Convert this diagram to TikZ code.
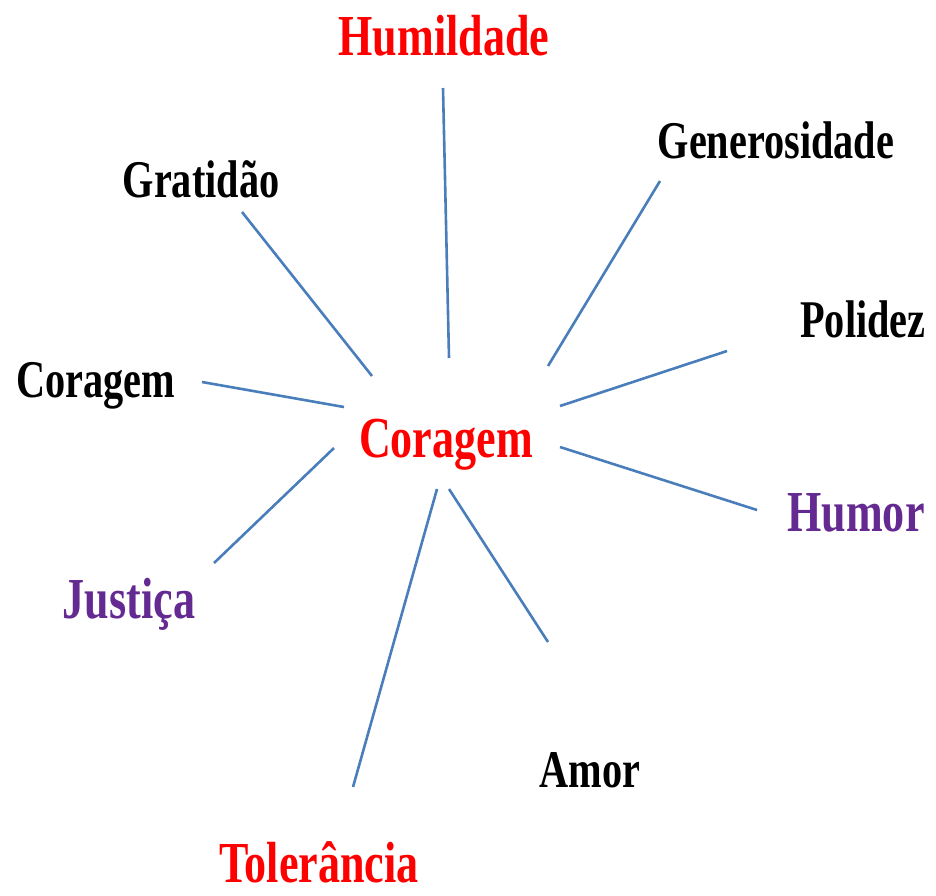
\documentclass[tikz,border=0pt]{standalone}
\usepackage{fontspec}
\usepackage{graphicx}
\setmainfont{Liberation Serif}
\usepackage{tikz}
\definecolor{linkblue}{HTML}{4A7EBB}
\definecolor{virtpurple}{HTML}{642A92}
\newcommand{\narrow}[1]{\scalebox{0.76}[1]{#1}}

\begin{document}
\begin{tikzpicture}[x=1pt,y=-1pt,
big/.style={anchor=base,inner sep=0pt,font=\fontsize{58}{58}\selectfont\bfseries},
small/.style={anchor=base,inner sep=0pt,font=\fontsize{53}{53}\selectfont\bfseries},
spoke/.style={draw=linkblue,line width=2.6pt}
]
\useasboundingbox (0,0) rectangle (936,895);

% The labels
\node[big,red] (centre) at (446,457) {\narrow{Coragem}};
\node[big,red] (humildade) at (444,55) {\narrow{Humildade}};
\node[small] (generosidade) at (776,158) {\narrow{Generosidade}};
\node[small] (gratidao) at (201,197) {\narrow{Gratidão}};
\node[small] (polidez) at (863,337) {\narrow{Polidez}};
\node[small] (coragem) at (96,397) {\narrow{Coragem}};
\node[big,virtpurple] (humor) at (856,531) {\narrow{Humor}};
\node[big,virtpurple] (justica) at (129,618) {\narrow{Justiça}};
\node[small] (amor) at (590,787) {\narrow{Amor}};
\node[big,red] (tolerancia) at (319,882) {\narrow{Tolerância}};

% The spoke ends
\coordinate (hu1) at (443,88);   \coordinate (hu2) at (449,358);
\coordinate (ge1) at (660,181);  \coordinate (ge2) at (548,366);
\coordinate (gr1) at (242,212);  \coordinate (gr2) at (372,376);
\coordinate (po1) at (727,351);  \coordinate (po2) at (560,406);
\coordinate (co1) at (202,382);  \coordinate (co2) at (344,407);
\coordinate (hm1) at (757,510);  \coordinate (hm2) at (560,447);
\coordinate (ju1) at (214,563);  \coordinate (ju2) at (334,448);
\coordinate (am1) at (548,642);  \coordinate (am2) at (449,489);
\coordinate (to1) at (353,787);  \coordinate (to2) at (437,489);

% The spokes
\foreach \v in {hu,ge,gr,po,co,hm,ju,am,to}
  \path[spoke] (\v1) -- (\v2);
\end{tikzpicture}
\end{document}
